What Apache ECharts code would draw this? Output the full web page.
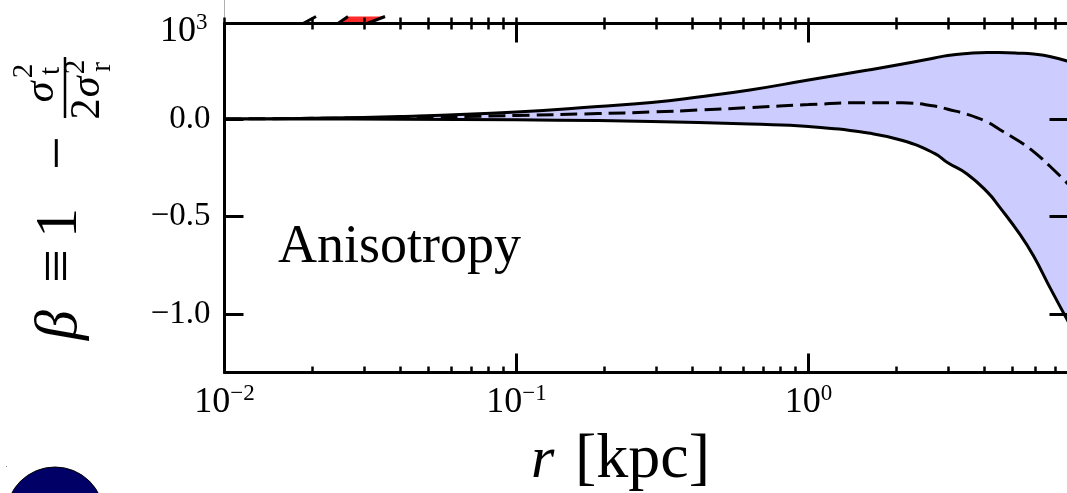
<!DOCTYPE html>
<html><head><meta charset="utf-8">
<script src="https://cdn.jsdelivr.net/npm/echarts@6/dist/echarts.min.js"></script>
<style>html,body{margin:0;padding:0;overflow:hidden;background:#fff}#c{width:1080px;height:493px}</style>
</head><body><div id="c"></div><script>
// ---- data ----
const r = [0.01, 0.018, 0.04, 0.1, 0.19, 0.29, 0.42, 0.63, 1.0, 1.6, 2.1, 2.7, 3.0, 3.5, 4.1, 4.5, 5.3, 5.9, 6.7, 7.8];
const betaUpper  = [0.0, 0.003, 0.013, 0.036, 0.064, 0.085, 0.113, 0.149, 0.2, 0.251, 0.282, 0.313, 0.326, 0.336, 0.341, 0.341, 0.338, 0.333, 0.321, 0.295];
const betaMedian = [0.0, 0.003, 0.008, 0.018, 0.028, 0.036, 0.046, 0.059, 0.074, 0.084, 0.083, 0.067, 0.05, 0.024, -0.016, -0.052, -0.117, -0.167, -0.241, -0.338];
const betaLower  = [0.0, 0.0, -0.0015, -0.004, -0.008, -0.012, -0.018, -0.026, -0.038, -0.072, -0.11, -0.176, -0.224, -0.283, -0.375, -0.449, -0.592, -0.703, -0.862, -1.046];
const majorR = [0.01, 0.1, 1];
const minorR = [0.02,0.03,0.04,0.05,0.06,0.07,0.08,0.09,0.2,0.3,0.4,0.5,0.6,0.7,0.8,0.9,2,3,4,5,6,7];
const yTicks = [-1.0, -0.5, 0.0];
// upper panel fragments (only the bottom edge is visible)
const segAR = [0.01857, 0.02058], segAV = [1000, 1105];
const segBR = [0.02446, 0.02648], segBV = [1000, 1105];
const segCR = [0.03076, 0.03546], segCV = [1000, 1105];
const redR = [0.02446, 0.02648, 0.03546, 0.03076], redV = [1000, 1105, 1105, 1000];

const FF = '"Liberation Serif", "DejaVu Serif", serif';
const MINUS = '\u2212';
function powLabel(v){
  const l = Math.log10(v), e = Math.round(l);
  if (Math.abs(l - e) > 1e-6) return '';
  return '{b|10}{s|' + (e < 0 ? MINUS + (-e) : e) + '}';
}
const powRich = {
  b: {fontFamily: FF, fontSize: 36, color: '#000', lineHeight: 36, verticalAlign: 'bottom'},
  s: {fontFamily: FF, fontSize: 23, color: '#000', lineHeight: 23, verticalAlign: 'bottom', padding: [0, 0, 15, 0]}
};
const BLK = '#000';
const GL = 224.5, GW = 844, GT = 23.5, GH = 349;
function xax(extra){
  return Object.assign({type:'log', logBase:10, min:0.01, max:7.77, gridIndex:0, z:10, splitLine:{show:false},
    axisLine:{show:false, onZero:false}, axisLabel:{show:false}, axisTick:{show:false}}, extra);
}
const xAxes = [
  xax({position:'bottom', axisLine:{show:true,onZero:false,lineStyle:{color:BLK,width:3}},
       axisTick:{show:true,inside:true,length:19,lineStyle:{color:BLK,width:3}},
       axisLabel:{show:true, margin:12, formatter:powLabel, rich:powRich, showMaxLabel:false, showMinLabel:true}}),
  xax({position:'bottom', axisTick:{show:true,inside:true,length:6,customValues:minorR,lineStyle:{color:BLK,width:2.5}}}),
  xax({position:'top', axisLine:{show:true,onZero:false,lineStyle:{color:BLK,width:3}},
       axisTick:{show:true,inside:true,length:19,lineStyle:{color:BLK,width:3}}}),
  xax({position:'top', axisTick:{show:true,inside:true,length:6,customValues:minorR,lineStyle:{color:BLK,width:2.5}}}),
  xax({gridIndex:1, position:'bottom', axisTick:{show:true,inside:true,length:6,customValues:majorR.concat(minorR),lineStyle:{color:BLK,width:2.5}}})
];
const yAxes = [
  {type:'value', gridIndex:0, position:'left', min:-1.3, max:0.49, z:10, splitLine:{show:false},
   axisLine:{show:true,onZero:false,lineStyle:{color:BLK,width:3}},
   axisTick:{show:true,inside:true,length:19,customValues:yTicks,lineStyle:{color:BLK,width:3}},
   axisLabel:{show:true,margin:14,customValues:yTicks,fontFamily:FF,fontSize:33,color:BLK,
     formatter:v=>(v<0?MINUS:'')+Math.abs(v).toFixed(1)}},
  {type:'value', gridIndex:0, position:'right', min:-1.3, max:0.49, z:10, splitLine:{show:false},
   axisLine:{show:true,onZero:false,lineStyle:{color:BLK,width:3}},
   axisTick:{show:true,inside:true,length:19,customValues:yTicks,lineStyle:{color:BLK,width:3}},
   axisLabel:{show:false}},
  {type:'log', logBase:10, gridIndex:1, position:'left', min:1000, max:100000, splitLine:{show:false},
   axisLine:{show:true,onZero:false,lineStyle:{color:'#b0b0b0',width:1}},
   axisTick:{show:false},
   axisLabel:{show:true,margin:17,padding:[16,0,0,0],formatter:powLabel,rich:powRich,showMaxLabel:false}}
];
function seg(R,V){ return R.map((x,i)=>[x,V[i]]); }
const option = {
  animation:false,
  grid:[{left:GL, top:GT, width:GW, height:GH, containLabel:false, outerBoundsMode:'none'},
        {left:GL, top:GT-323.5, width:GW, height:323.5, containLabel:false, outerBoundsMode:'none'}],
  xAxis:xAxes, yAxis:yAxes,
  series:[
    {type:'line', xAxisIndex:0, yAxisIndex:0, data:r.map((x,i)=>[x,betaUpper[i]]),
     smooth:true, symbol:'none', lineStyle:{color:BLK,width:3}, areaStyle:{color:'#ccccff',opacity:1,origin:'start'}, z:2},
    {type:'line', xAxisIndex:0, yAxisIndex:0, data:r.map((x,i)=>[x,betaLower[i]]),
     smooth:true, symbol:'none', lineStyle:{color:BLK,width:3}, areaStyle:{color:'#ffffff',opacity:1,origin:'start'}, z:3},
    {type:'line', xAxisIndex:0, yAxisIndex:0, data:r.map((x,i)=>[x,betaMedian[i]]),
     smooth:true, symbol:'none', lineStyle:{color:BLK,width:3,type:[17,7]}, z:4},
    {type:'custom', xAxisIndex:4, yAxisIndex:2, data:[[0]], z:3,
     renderItem:(p,api)=>({type:'polygon', shape:{points:redR.map((x,i)=>api.coord([x,redV[i]]))}, style:{fill:'#ff2a2a'}})},
    {type:'line', xAxisIndex:4, yAxisIndex:2, data:seg(segAR,segAV), symbol:'none', lineStyle:{color:BLK,width:3}, z:4},
    {type:'line', xAxisIndex:4, yAxisIndex:2, data:seg(segBR,segBV), symbol:'none', lineStyle:{color:BLK,width:3}, z:4},
    {type:'line', xAxisIndex:4, yAxisIndex:2, data:seg(segCR,segCV), symbol:'none', lineStyle:{color:BLK,width:3}, z:4}
  ],
  graphic:[
    {type:'text', left:278, top:221, z:100, style:{text:'Anisotropy', font:'54px '+FF, fill:BLK}},
    {type:'text', x:531, y:461, style:{text:'r', font:'italic 60px '+FF, fill:BLK, verticalAlign:'middle'}},
    {type:'text', x:575, y:460, style:{text:'[kpc]', font:'64px '+FF, fill:BLK, verticalAlign:'middle'}},
    {type:'group', x:80, y:345, rotation:Math.PI/2, children:[
      {type:'text', x:20, y:-20, style:{text:'\u03B2', font:'italic 60px '+FF, fill:BLK, align:'center', verticalAlign:'middle'}},
      {type:'text', x:79, y:-20, style:{text:'\u2261', font:'60px '+FF, fill:BLK, align:'center', verticalAlign:'middle'}},
      {type:'text', x:122, y:-20, style:{text:'1', font:'60px '+FF, fill:BLK, align:'center', verticalAlign:'middle'}},
      {type:'text', x:192, y:-20, style:{text:MINUS, font:'60px '+FF, fill:BLK, align:'center', verticalAlign:'middle'}},
      {type:'line', shape:{x1:227, y1:-15, x2:288, y2:-15}, style:{stroke:BLK, lineWidth:2.5}},
      {type:'text', x:253, y:-38, style:{text:'\u03C3', font:'italic 42px '+FF, fill:BLK, align:'center', verticalAlign:'middle'}},
      {type:'text', x:274, y:-56, style:{text:'2', font:'29px '+FF, fill:BLK, align:'center', verticalAlign:'middle'}},
      {type:'text', x:274, y:-29, style:{text:'t', font:'29px '+FF, fill:BLK, align:'center', verticalAlign:'middle'}},
      {type:'text', x:236, y:8, style:{text:'2', font:'42px '+FF, fill:BLK, align:'center', verticalAlign:'middle'}},
      {type:'text', x:258, y:8, style:{text:'\u03C3', font:'italic 42px '+FF, fill:BLK, align:'center', verticalAlign:'middle'}},
      {type:'text', x:278, y:-4, style:{text:'2', font:'29px '+FF, fill:BLK, align:'center', verticalAlign:'middle'}},
      {type:'text', x:278, y:22, style:{text:'r', font:'29px '+FF, fill:BLK, align:'center', verticalAlign:'middle'}}
    ]},
    {type:'circle', shape:{cx:55, cy:516, r:49}, style:{fill:'#000066', stroke:'#000', lineWidth:1}},
    {type:'rect', shape:{x:6, y:466, width:1, height:1}, style:{fill:'#888'}}
  ]
};
echarts.init(document.getElementById('c'), null, {renderer:'canvas'}).setOption(option);
</script></body></html>
